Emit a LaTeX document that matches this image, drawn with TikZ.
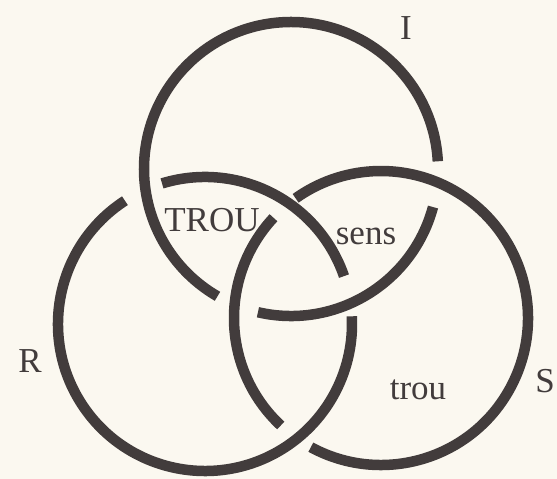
\documentclass[tikz,border=0pt]{standalone}
\usepackage{fontspec}
\setmainfont{Liberation Serif}
\usetikzlibrary{positioning}

\definecolor{paper}{RGB}{251,248,240}
\definecolor{ink}{RGB}{66,60,60}

\begin{document}
\begin{tikzpicture}[x=1pt,y=1pt,
  ring/.style={draw=ink,line width=10.5pt},
  tag/.style={text=ink,font=\fontsize{35}{40}\selectfont,inner sep=0pt,anchor=base}]
  \fill[paper] (0,0) rectangle (557,479);
  \path[use as bounding box] (0,0) rectangle (557,479);
  % centres of the three rings
  \coordinate (I) at (291,310);
  \coordinate (R) at (205,155);
  \coordinate (S) at (381,161);
  % I: passes under S twice
  \draw[ring] (I) ++(3:147) arc[start angle=3,end angle=240,radius=147];
  \draw[ring] (I) ++(-103:147) arc[start angle=-103,end angle=-15,radius=147];
  % R: passes under I twice
  \draw[ring] (R) ++(123:147) arc[start angle=123,end angle=363,radius=147];
  \draw[ring] (R) ++(19:147) arc[start angle=19,end angle=107,radius=147];
  % S: passes under R twice
  \draw[ring] (S) ++(-118.5:147) arc[start angle=-118.5,end angle=125.5,radius=147];
  \draw[ring] (S) ++(137:147) arc[start angle=137,end angle=227,radius=147];
  % labels
  \node[tag] (lI) at (406,439) {I};
  \node[tag] (lR) at (30,106) {R};
  \node[tag] (lS) at (545,86) {S};
  \node[tag] (trouC) at (212,247) {TROU};
  \node[tag] (sens) at (366,234) {sens};
  \node[tag] (trou) at (418,79) {trou};
\end{tikzpicture}
\end{document}
